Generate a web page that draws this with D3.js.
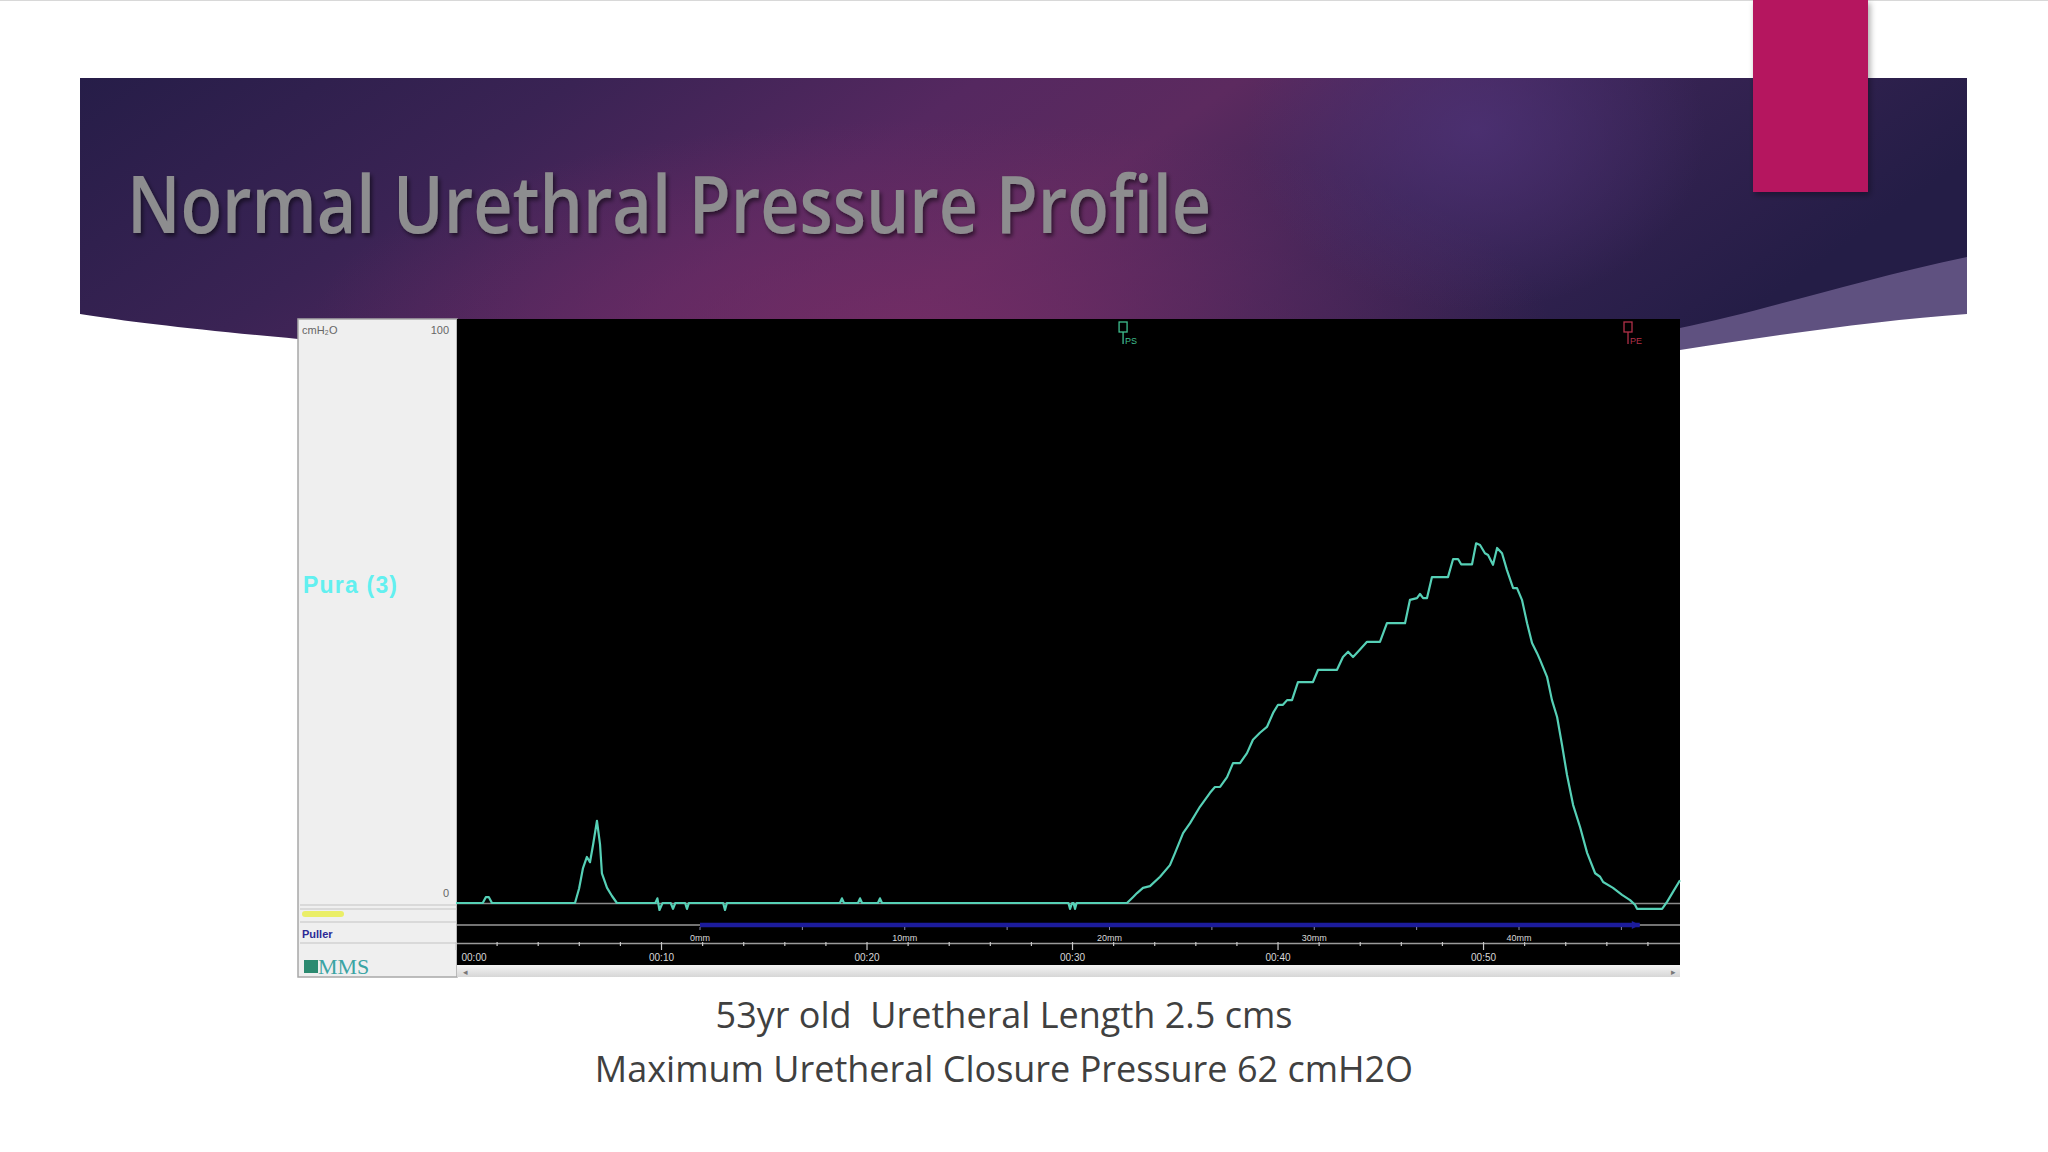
<!DOCTYPE html>
<html><head><meta charset="utf-8">
<script src="https://cdn.jsdelivr.net/npm/d3@7"></script>
<style>html,body{margin:0;padding:0;background:#fff;overflow:hidden}</style>
</head><body><svg id="c" width="2048" height="1152"></svg>
<script>
// ---------- data ----------
const titleText = "Normal Urethral Pressure Profile";
const captionLines = ["53yr old  Uretheral Length 2.5 cms", "Maximum Uretheral Closure Pressure 62 cmH2O"];
const channelName = "Pura (3)";
const unitLabel = "cmH₂O";
const yTickValues = [0, 100];
const timeS = [0,1.30,1.45,1.60,1.75,5.79,5.99,6.18,6.37,6.52,6.67,6.86,7.01,7.10,7.35,7.59,7.83,
  9.70,9.80,9.90,10.05,10.45,10.56,10.67,11.15,11.24,11.33,13.00,13.09,13.18,
  18.68,18.78,18.88,19.56,19.66,19.76,20.53,20.63,20.73,29.80,29.88,29.98,30.05,30.12,30.20,
  32.65,32.94,33.14,33.43,33.77,34.26,34.74,34.99,35.38,35.72,36.20,36.69,36.93,37.18,37.52,37.81,38.15,38.49,38.78,39.12,39.46,39.76,40.00,40.24,40.44,40.68,40.97,41.70,41.95,42.87,43.16,43.41,43.65,43.89,44.33,44.96,45.30,46.18,46.42,46.76,46.91,47.06,47.25,47.49,48.27,48.52,48.76,48.91,49.44,49.64,49.83,50.07,50.22,50.46,50.66,50.90,51.14,51.44,51.63,51.87,52.12,52.36,52.60,52.75,53.09,53.33,53.58,53.82,54.06,54.36,54.70,55.04,55.43,55.67,55.82,56.30,56.74,57.13,57.37,57.47,58.69,58.93,59.22,59.56];
const puraCmH2O = [0,0,1.0,1.0,0,0,2.5,6.0,7.9,7.0,10.0,14.1,10.0,5.1,2.6,1.2,0,
  0,0.8,-1.2,0,0,-1.0,0,0,-1.0,0,0,-1.2,0,
  0,0.8,0,0,0.8,0,0,0.8,0,0,-1.0,0,0,-1.0,0,
  0,1.0,1.7,2.6,2.9,4.5,6.5,8.6,12.0,13.7,16.5,18.9,19.9,19.9,21.6,24.0,24.0,25.7,28.0,29.2,30.2,32.6,34.0,34.0,34.8,34.8,37.9,37.9,40.0,40.0,42.2,43.1,42.2,43.1,44.8,44.8,48.0,48.0,52.0,52.3,53.0,52.3,52.3,55.9,55.9,59.0,59.0,58.1,58.1,61.7,61.4,60.0,59.7,58.0,60.9,60.0,57.1,54.0,54.0,52.0,48.0,44.6,42.9,41.7,38.8,34.8,31.9,27.1,22.0,16.8,13.0,8.6,5.1,4.5,3.6,2.6,1.4,0.5,-0.3,-1.0,-1.0,0.2,1.9,3.9];
const timeTicks = [0,10,20,30,40,50];
const timeTickLabels = ["00:00","00:10","00:20","00:30","00:40","00:50"];
const mmTicks = [0,10,20,30,40];
const mmTickLabels = ["0mm","10mm","20mm","30mm","40mm"];
const pullerRangeMM = [0, 45.9];
const eventLabels = ["PS","PE"];
const eventTimes = [32.46, 57.03];

// ---------- drawing ----------
const svg = d3.select("#c");
const defs = svg.append("defs");

svg.append("rect").attr("width",2048).attr("height",1152).attr("fill","#ffffff");
svg.append("line").attr("x1",0).attr("x2",2048).attr("y1",0.5).attr("y2",0.5).attr("stroke","#d8d8d8");

// banner gradients
const lg = defs.append("linearGradient").attr("id","bannerG").attr("x1","0").attr("x2","1").attr("y1","0").attr("y2","0.25");
[["0%","#261d48"],["25%","#3a2354"],["45%","#552860"],["58%","#5c2a5f"],["75%","#3a2455"],["100%","#241d46"]]
  .forEach(([o,c])=>lg.append("stop").attr("offset",o).attr("stop-color",c));
const rg = defs.append("radialGradient").attr("id","glow1").attr("cx","0.5").attr("cy","0.5").attr("r","0.5");
rg.append("stop").attr("offset","0%").attr("stop-color","#4e3276").attr("stop-opacity",0.8);
rg.append("stop").attr("offset","100%").attr("stop-color","#4e3276").attr("stop-opacity",0);
const rg2 = defs.append("radialGradient").attr("id","glow2").attr("cx","0.5").attr("cy","0.5").attr("r","0.5");
rg2.append("stop").attr("offset","0%").attr("stop-color","#752d66").attr("stop-opacity",0.85);
rg2.append("stop").attr("offset","100%").attr("stop-color","#752d66").attr("stop-opacity",0);

const bannerPath = "M80,78 L1967,78 L1967,257 C1850,282 1760,312 1680,328 L1000,400 L298,339 C200,330 130,322 80,314 Z";
// lighter wave
svg.append("path").attr("d","M1967,245 L1967,314 C1880,320 1770,336 1680,350 L1500,390 L1500,300 Z")
  .attr("fill","#5f5180");
svg.append("clipPath").attr("id","bannerClip").append("path").attr("d",bannerPath);
const bg = svg.append("g").attr("clip-path","url(#bannerClip)");
bg.append("rect").attr("x",80).attr("y",78).attr("width",1887).attr("height",330).attr("fill","url(#bannerG)");
bg.append("ellipse").attr("cx",930).attr("cy",330).attr("rx",620).attr("ry",210).attr("fill","url(#glow2)");
bg.append("ellipse").attr("cx",1476).attr("cy",130).attr("rx",230).attr("ry",180).attr("fill","url(#glow1)");

// pink rectangle
const sh = defs.append("filter").attr("id","rshadow").attr("x","-20%").attr("y","-20%").attr("width","140%").attr("height","140%");
sh.append("feDropShadow").attr("dx",2).attr("dy",3).attr("stdDeviation",3).attr("flood-color","#000").attr("flood-opacity",0.35);
svg.append("rect").attr("x",1753).attr("y",0).attr("width",115).attr("height",192).attr("fill","#b5145f").attr("filter","url(#rshadow)");

// title
const tsh = defs.append("filter").attr("id","tshadow").attr("x","-5%").attr("y","-20%").attr("width","110%").attr("height","150%");
tsh.append("feDropShadow").attr("dx",2).attr("dy",3).attr("stdDeviation",2).attr("flood-color","#000").attr("flood-opacity",0.55);
svg.append("text").attr("x",127).attr("y",233).text(titleText)
  .attr("font-family","'Open Sans', 'Noto Sans', sans-serif").attr("font-size",80).attr("font-weight",600)
  .attr("textLength",1084).attr("lengthAdjust","spacingAndGlyphs")
  .attr("fill","#8d8d8f").attr("filter","url(#tshadow)");

// ---------- chart panel ----------
const P = {x0:298, x1:1680, y0:319, y1:977, split:457};
svg.append("rect").attr("x",P.x0).attr("y",P.y0).attr("width",P.split-P.x0).attr("height",P.y1-P.y0)
  .attr("fill","#efefef").attr("stroke","#a8a8a8").attr("stroke-width",1.5);
svg.append("rect").attr("x",P.split).attr("y",P.y0).attr("width",P.x1-P.split).attr("height",P.y1-P.y0).attr("fill","#000");

const x = d3.scaleLinear().domain([0, 59.56]).range([456, 1680]);
const y = d3.scaleLinear().domain([0, 100]).range([903, 320]);
const xmm = d3.scaleLinear().domain([0, 40]).range([700, 1519]);

// left panel labels
const lf = "'Liberation Sans', Arial, sans-serif";
svg.append("text").attr("x",302).attr("y",334).text(unitLabel).attr("font-family",lf).attr("font-size",11).attr("fill","#666");
svg.selectAll("text.ytl").data(yTickValues).join("text").attr("class","ytl")
  .attr("x",449).attr("y",d=>d===0? y(d)-6 : y(d)+14).attr("text-anchor","end")
  .attr("font-family",lf).attr("font-size",11).attr("fill","#666").text(d=>d);
svg.append("text").attr("x",303).attr("y",593).text(channelName).attr("font-family",lf).attr("font-weight","bold")
  .attr("font-size",23).attr("letter-spacing",1.2).attr("fill","#62f0f0");
// dividers in left panel
[905,909,922,943].forEach(v=>svg.append("line").attr("x1",P.x0+2).attr("x2",P.split).attr("y1",v).attr("y2",v).attr("stroke","#c4c4c4").attr("stroke-width",1.2));
svg.append("rect").attr("x",302).attr("y",911).attr("width",42).attr("height",6).attr("rx",3).attr("fill","#e8ee3a").attr("opacity",0.75);
svg.append("text").attr("x",302).attr("y",938).text("Puller").attr("font-family",lf).attr("font-weight","bold")
  .attr("font-size",11).attr("fill","#2c2a96");
svg.append("rect").attr("x",304).attr("y",960).attr("width",14).attr("height",13).attr("fill","#2b8a70");
svg.append("text").attr("x",318).attr("y",974).text("MMS").attr("font-family","'Liberation Serif', serif")
  .attr("font-size",22).attr("fill","#3aa4a4");

// gray channel lines in plot
svg.append("line").attr("x1",P.split).attr("x2",P.x1).attr("y1",903.5).attr("y2",903.5).attr("stroke","#8a8a8a").attr("stroke-width",1.5);
svg.append("line").attr("x1",P.split).attr("x2",P.x1).attr("y1",925).attr("y2",925).attr("stroke","#9a9a9a").attr("stroke-width",1.5);
svg.append("line").attr("x1",P.split).attr("x2",P.x1).attr("y1",943.5).attr("y2",943.5).attr("stroke","#9a9a9a").attr("stroke-width",1.5);

// puller bar
svg.append("line").attr("x1",xmm(pullerRangeMM[0])).attr("x2",xmm(pullerRangeMM[1])).attr("y1",925).attr("y2",925)
  .attr("stroke","#1c1c9c").attr("stroke-width",4.5);
svg.append("path").attr("d",`M${xmm(pullerRangeMM[1])-8},921 L${xmm(pullerRangeMM[1])},925 L${xmm(pullerRangeMM[1])-8},929 Z`).attr("fill","#1c1c9c");
const mm5 = d3.range(0, 46, 5);
svg.selectAll("line.mmt").data(mm5).join("line").attr("class","mmt")
  .attr("x1",d=>xmm(d)).attr("x2",d=>xmm(d)).attr("y1",927).attr("y2",930).attr("stroke","#8888aa").attr("stroke-width",1);
svg.selectAll("text.mml").data(mmTicks).join("text").attr("class","mml")
  .attr("x",d=>xmm(d)).attr("y",941).attr("text-anchor","middle").attr("font-family",lf).attr("font-size",9)
  .attr("fill","#d8d8d8").text((d,i)=>mmTickLabels[i]);

// time axis
const minor = d3.range(0, 59.6, 2);
svg.selectAll("line.tm").data(minor).join("line").attr("class","tm")
  .attr("x1",d=>x(d)).attr("x2",d=>x(d)).attr("y1",942).attr("y2",d=>d%10===0?950:946).attr("stroke","#c8c8c8").attr("stroke-width",1.2);
svg.selectAll("text.tl").data(timeTicks).join("text").attr("class","tl")
  .attr("x",d=>Math.max(x(d),474)).attr("y",961).attr("text-anchor","middle").attr("font-family",lf).attr("font-size",10)
  .attr("fill","#d8d8d8").text((d,i)=>timeTickLabels[i]);

// scrollbar
const sg = defs.append("linearGradient").attr("id","scrollG").attr("x1","0").attr("x2","0").attr("y1","0").attr("y2","1");
sg.append("stop").attr("offset","0%").attr("stop-color","#f4f4f4");
sg.append("stop").attr("offset","100%").attr("stop-color","#d6d6d6");
svg.append("rect").attr("x",P.split).attr("y",965).attr("width",P.x1-P.split).attr("height",12).attr("fill","url(#scrollG)");
svg.append("text").attr("x",463).attr("y",975).text("◂").attr("font-size",9).attr("fill","#777");
svg.append("text").attr("x",1671).attr("y",975).text("▸").attr("font-size",9).attr("fill","#777");

// event markers
const evColors = ["#3fbf8f","#b03048"];
const ev = svg.selectAll("g.ev").data(eventTimes).join("g").attr("class","ev");
ev.append("rect").attr("x",d=>x(d)-4).attr("y",322).attr("width",8).attr("height",10).attr("fill","none")
  .attr("stroke",(d,i)=>evColors[i]).attr("stroke-width",1.3);
ev.append("line").attr("x1",d=>x(d)).attr("x2",d=>x(d)).attr("y1",332).attr("y2",344).attr("stroke",(d,i)=>evColors[i]).attr("stroke-width",1.3);
ev.append("text").attr("x",d=>x(d)+2).attr("y",344).text((d,i)=>eventLabels[i]).attr("font-family",lf).attr("font-size",9)
  .attr("fill",(d,i)=>evColors[i]);

// trace
const pts = timeS.map((t,i)=>[t, puraCmH2O[i]]);
const line = d3.line().x(d=>x(d[0])).y(d=>y(d[1]));
svg.append("path").datum(pts).attr("d",line).attr("fill","none").attr("stroke","#56d0b6").attr("stroke-width",2.2)
  .attr("stroke-linejoin","round");

// captions
svg.selectAll("text.cap").data(captionLines).join("text").attr("class","cap")
  .attr("x",1004).attr("y",(d,i)=>1028+i*54).attr("text-anchor","middle")
  .attr("font-family","'Open Sans', 'Noto Sans', sans-serif").attr("font-size",36).attr("fill","#404040")
  .style("white-space","pre").text(d=>d);
</script></body></html>
